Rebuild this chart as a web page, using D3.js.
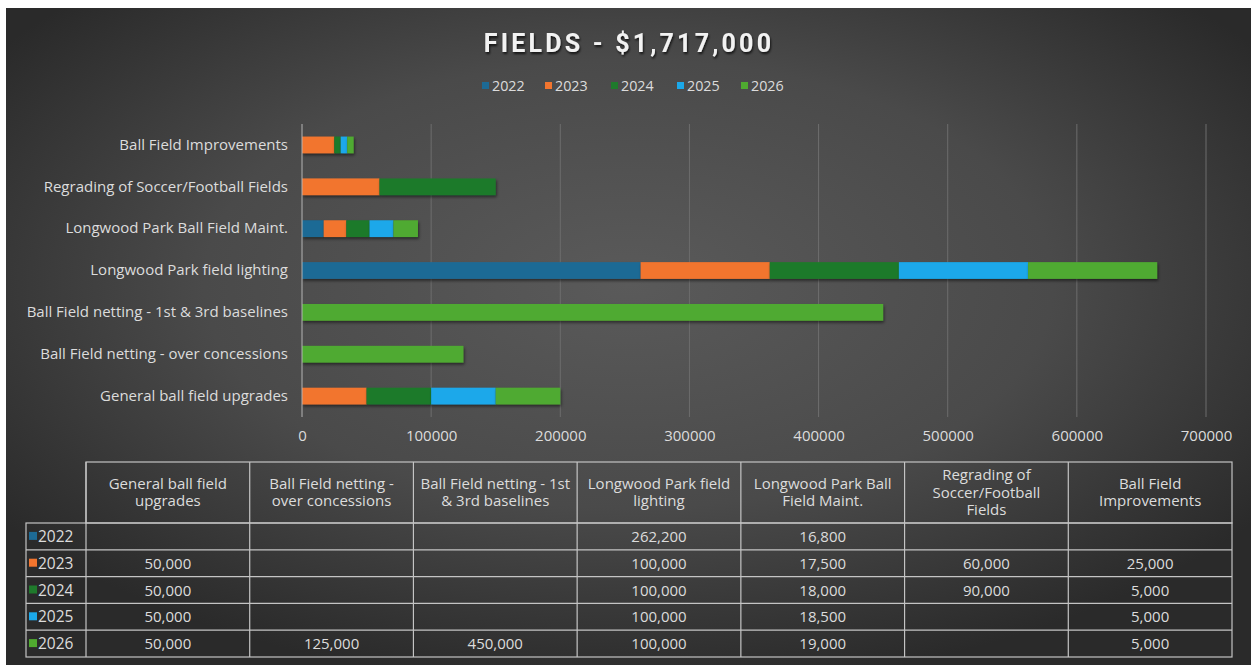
<!DOCTYPE html>
<html>
<head>
<meta charset="utf-8">
<script src="https://cdn.jsdelivr.net/npm/d3@7"></script>
<style>
  body { margin: 0; background: #fff; }
  svg { display: block; font-family: "Open Sans", Roboto, sans-serif; }
</style>
</head>
<body>
<svg id="chart"></svg>
<script>
const width = 1251;
const height = 671;

// data, in table order
const categories = [
    'General ball field upgrades',
    'Ball Field netting - over concessions',
    'Ball Field netting - 1st & 3rd baselines',
    'Longwood Park field lighting',
    'Longwood Park Ball Field Maint.',
    'Regrading of Soccer/Football Fields',
    'Ball Field Improvements'
];
const headerLines = [
    ['General ball field', 'upgrades'],
    ['Ball Field netting -', 'over concessions'],
    ['Ball Field netting - 1st', '& 3rd baselines'],
    ['Longwood Park field', 'lighting'],
    ['Longwood Park Ball', 'Field Maint.'],
    ['Regrading of', 'Soccer/Football', 'Fields'],
    ['Ball Field', 'Improvements']
];
const years = ['2022', '2023', '2024', '2025', '2026'];
const values2022 = [null, null, null, 262200, 16800, null, null];
const values2023 = [50000, null, null, 100000, 17500, 60000, 25000];
const values2024 = [50000, null, null, 100000, 18000, 90000, 5000];
const values2025 = [50000, null, null, 100000, 18500, null, 5000];
const values2026 = [50000, 125000, 450000, 100000, 19000, null, 5000];
const xTicks = [0, 100000, 200000, 300000, 400000, 500000, 600000, 700000];
const colors = ['#1d6a95', '#f2752f', '#1f7a2c', '#1ba8ea', '#4faa30'];

const series = [values2022, values2023, values2024, values2025, values2026];
const margin = { top: 124, right: 45, bottom: 254, left: 302 };
const fontSize = 15;
const textColor = '#dcdcdc';

const svg = d3.select('#chart')
    .attr('width', width)
    .attr('height', height);

const defs = svg.append('defs');
const grad = defs.append('radialGradient')
    .attr('id', 'bg')
    .attr('cx', '50%').attr('cy', '42%').attr('r', '62%');
grad.append('stop').attr('offset', '0%').attr('stop-color', '#5a5a5a');
grad.append('stop').attr('offset', '55%').attr('stop-color', '#4a4a4a');
grad.append('stop').attr('offset', '100%').attr('stop-color', '#2a2a2a');

const shadow = defs.append('filter').attr('id', 'shadow')
    .attr('x', '-5%').attr('y', '-30%').attr('width', '110%').attr('height', '180%');
shadow.append('feDropShadow')
    .attr('dx', 1).attr('dy', 2).attr('stdDeviation', 1.5)
    .attr('flood-color', '#000').attr('flood-opacity', 0.5);

const titleShadow = defs.append('filter').attr('id', 'tshadow');
titleShadow.append('feDropShadow')
    .attr('dx', 1).attr('dy', 2).attr('stdDeviation', 1.2)
    .attr('flood-color', '#000').attr('flood-opacity', 0.7);

svg.append('rect')
    .attr('x', 6).attr('y', 8)
    .attr('width', width - 6).attr('height', 657)
    .attr('fill', 'url(#bg)');

// title and legend
svg.append('text')
    .attr('x', 629).attr('y', 52)
    .attr('text-anchor', 'middle')
    .attr('fill', '#f2f2f2')
    .attr('font-family', 'Roboto, sans-serif')
    .attr('font-size', 25)
    .attr('font-weight', 'bold')
    .attr('letter-spacing', 3.2)
    .attr('filter', 'url(#tshadow)')
    .text('FIELDS - $1,717,000');

const legendX = [482, 545, 611, 677, 741];
const legend = svg.append('g');
years.forEach((y, i) => {
    const g = legend.append('g').attr('transform', `translate(${legendX[i]},86)`);
    g.append('rect').attr('x', 0).attr('y', -4).attr('width', 7).attr('height', 7).attr('fill', colors[i]);
    g.append('text').attr('x', 10).attr('y', 5)
        .attr('fill', textColor).attr('font-size', 14.3).text(y);
});

// bar chart
const xScale = d3.scaleLinear()
    .domain([0, 700000])
    .range([margin.left, width - margin.right]);

const plotOrder = categories.slice().reverse();
const yScale = d3.scaleBand()
    .domain(plotOrder)
    .range([margin.top, height - margin.bottom])
    .paddingInner(0.6)
    .paddingOuter(0.3);

const rows = categories.map((c, i) => {
    const r = { category: c };
    years.forEach((y, j) => { r[y] = series[j][i] || 0; });
    return r;
});
const stacked = d3.stack().keys(years)(rows);

svg.append('g')
    .selectAll('line')
    .data(xTicks.slice(1))
    .enter()
    .append('line')
    .attr('x1', d => xScale(d)).attr('x2', d => xScale(d))
    .attr('y1', margin.top).attr('y2', height - margin.bottom)
    .attr('stroke', '#6d6d6d').attr('stroke-width', 1);

const barLayer = svg.append('g');
stacked.forEach((s, i) => {
    barLayer.append('g')
        .attr('fill', colors[i])
        .attr('filter', 'url(#shadow)')
        .selectAll('rect')
        .data(s.filter(d => d[1] > d[0]))
        .enter()
        .append('rect')
        .attr('x', d => xScale(d[0]))
        .attr('width', d => xScale(d[1]) - xScale(d[0]))
        .attr('y', d => yScale(d.data.category))
        .attr('height', yScale.bandwidth());
});

svg.append('line')
    .attr('x1', xScale(0)).attr('x2', xScale(0))
    .attr('y1', margin.top).attr('y2', height - margin.bottom)
    .attr('stroke', '#b5b5b5').attr('stroke-width', 1);

const yAxis = d3.axisLeft(yScale).tickSize(0).tickPadding(14);
svg.append('g')
    .attr('transform', `translate(${margin.left},0)`)
    .call(yAxis)
    .call(g => g.select('.domain').remove())
    .selectAll('text')
    .attr('fill', textColor)
    .attr('font-size', fontSize)
    .attr('font-family', '"Open Sans", sans-serif');

const xAxis = d3.axisBottom(xScale).tickValues(xTicks).tickSize(0).tickPadding(13).tickFormat(d3.format('d'));
svg.append('g')
    .attr('transform', `translate(0,${height - margin.bottom})`)
    .call(xAxis)
    .call(g => g.select('.domain').remove())
    .selectAll('text')
    .attr('fill', textColor)
    .attr('font-size', fontSize)
    .attr('font-family', '"Open Sans", sans-serif');

// data table
const tableLeft = 26;
const colStart = 86;
const tableRight = 1232;
const headTop = 462;
const headBottom = 523;
const tableBottom = 657;
const colW = (tableRight - colStart) / categories.length;
const rowH = (tableBottom - headBottom) / years.length;
const fmt = d3.format(',');

const table = svg.append('g')
    .attr('stroke', '#c4c4c4').attr('stroke-width', 1.2).attr('fill', 'none');

table.append('rect')
    .attr('x', colStart).attr('y', headTop)
    .attr('width', tableRight - colStart).attr('height', headBottom - headTop);
table.append('rect')
    .attr('x', tableLeft).attr('y', headBottom)
    .attr('width', tableRight - tableLeft).attr('height', tableBottom - headBottom);

categories.forEach((c, i) => {
    if (i > 0) {
        table.append('line')
            .attr('x1', colStart + i * colW).attr('x2', colStart + i * colW)
            .attr('y1', headTop).attr('y2', tableBottom);
    }
});
table.append('line')
    .attr('x1', colStart).attr('x2', colStart)
    .attr('y1', headTop).attr('y2', tableBottom);
years.forEach((y, j) => {
    if (j > 0) {
        table.append('line')
            .attr('x1', tableLeft).attr('x2', tableRight)
            .attr('y1', headBottom + j * rowH).attr('y2', headBottom + j * rowH);
    }
});

const text = svg.append('g').attr('fill', textColor).attr('font-size', fontSize);

headerLines.forEach((lines, i) => {
    const cx = colStart + (i + 0.5) * colW;
    const cy = (headTop + headBottom) / 2;
    const lh = 17.5;
    lines.forEach((l, k) => {
        text.append('text')
            .attr('x', cx)
            .attr('y', cy + (k - (lines.length - 1) / 2) * lh + 5)
            .attr('text-anchor', 'middle')
            .text(l);
    });
});

years.forEach((y, j) => {
    const cy = headBottom + (j + 0.5) * rowH;
    text.append('rect')
        .attr('x', 29).attr('y', cy - 4.5).attr('width', 8).attr('height', 8)
        .attr('fill', colors[j]);
    text.append('text')
        .attr('x', 38).attr('y', cy + 5.5)
        .attr('font-size', 15.5)
        .text(y);
    series[j].forEach((v, i) => {
        if (v == null) return;
        text.append('text')
            .attr('x', colStart + (i + 0.5) * colW)
            .attr('y', cy + 5.5)
            .attr('text-anchor', 'middle')
            .text(fmt(v));
    });
});
</script>
</body>
</html>
